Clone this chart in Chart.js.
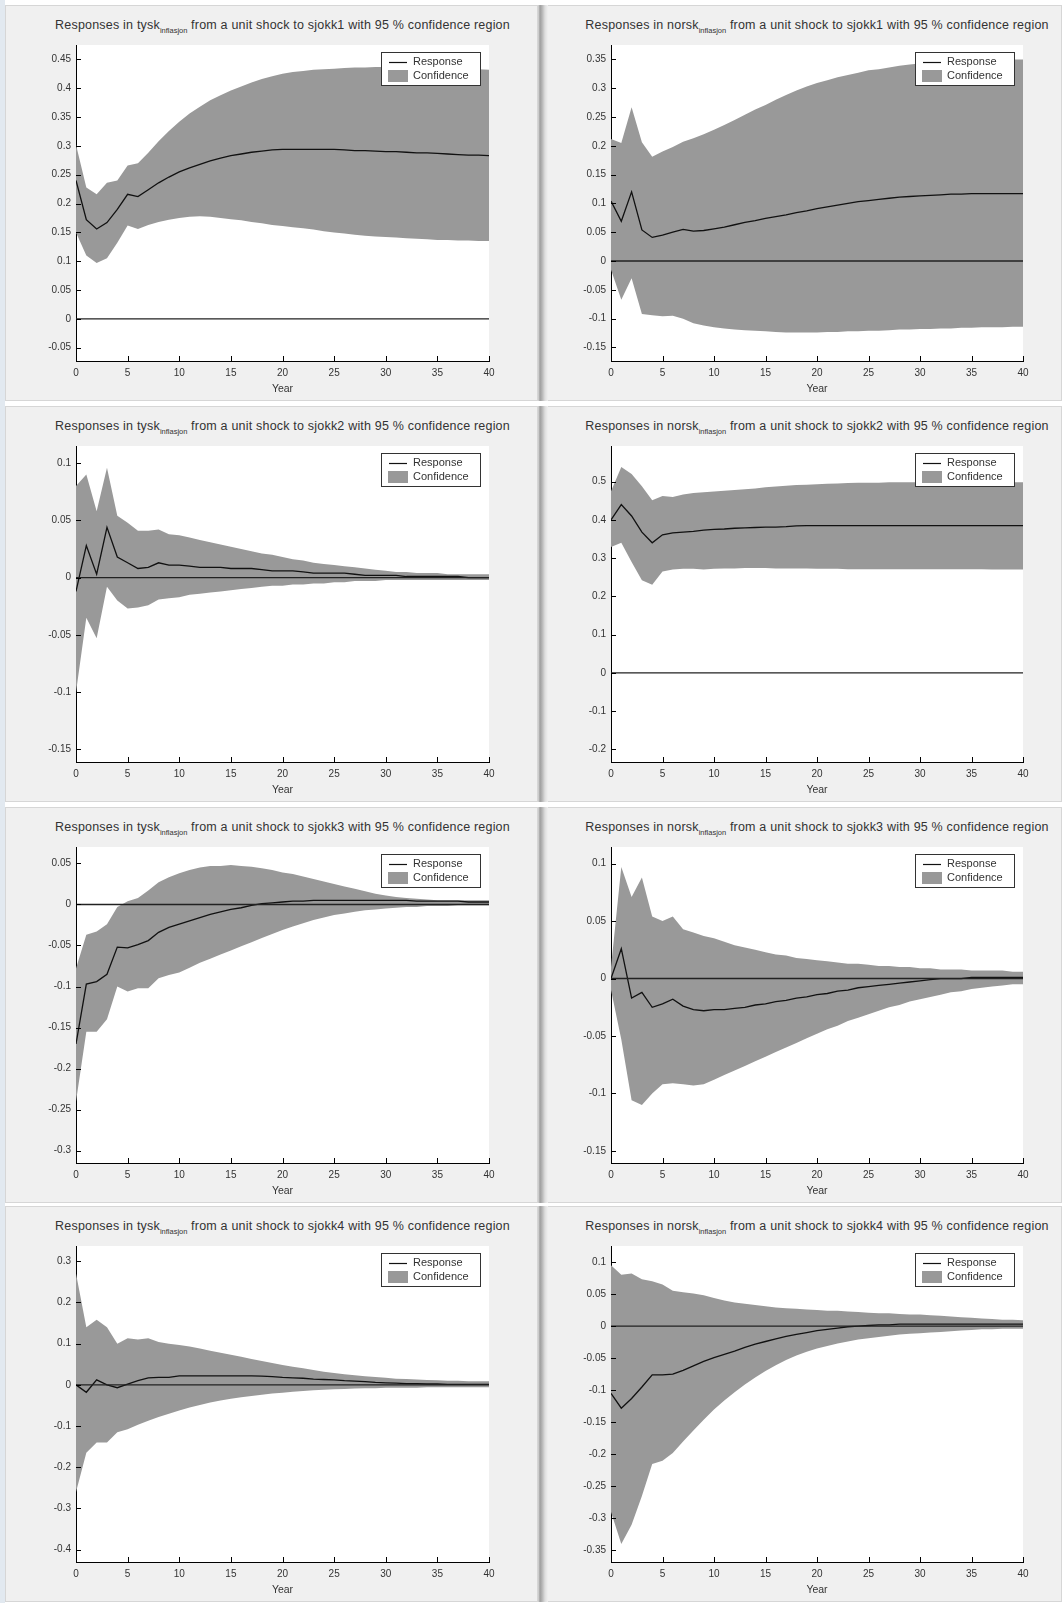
<!DOCTYPE html>
<html>
<head>
<meta charset="utf-8">
<script src="https://cdn.jsdelivr.net/npm/chart.js@4.4.0/dist/chart.umd.min.js"></script>
<style>
  body { margin: 0; width: 1062px; height: 1603px; position: relative; overflow: hidden; background: #fff;
         font-family: "Liberation Sans", Arial, sans-serif; }
  .strip { position: absolute; left: 0; top: 0; width: 5px; height: 1603px; background: #e2e9f0; }
  .win { position: absolute; background: #f0f0f0; box-shadow: inset 0 0 0 1px #d6d6d6; }
  .win canvas { position: absolute; left: 0; top: 0; }
  .edge { position: absolute; width: 10px;
          background: linear-gradient(to right, #dcdcdc 0, #9e9e9e 2px, #b4b4b4 4px, #dedede 7px, #f0f0f0 10px); }
  .ttl { position: absolute; font-size: 12.5px; line-height: 14px; letter-spacing: 0.2px; color: #333;
         white-space: nowrap; transform: translateX(-50%); }
  .ttl sub { font-size: 7.5px; vertical-align: -4px; line-height: 0; letter-spacing: 0; }
</style>
</head>
<body>
<div class="strip"></div>
<script>
const years = [0,1,2,3,4,5,6,7,8,9,10,11,12,13,14,15,16,17,18,19,20,21,22,23,24,25,26,27,28,29,30,31,32,33,34,35,36,37,38,39,40];
const zeroLine = [0,0,0,0,0,0,0,0,0,0,0,0,0,0,0,0,0,0,0,0,0,0,0,0,0,0,0,0,0,0,0,0,0,0,0,0,0,0,0,0,0];

// tysk, sjokk1
const tysk1Resp = [0.240,0.172,0.156,0.167,0.190,0.216,0.212,0.224,0.236,0.246,0.255,0.262,0.268,0.274,0.279,0.283,0.286,0.289,0.291,0.293,0.294,0.294,0.294,0.294,0.294,0.294,0.293,0.292,0.292,0.291,0.290,0.290,0.289,0.288,0.288,0.287,0.286,0.285,0.284,0.284,0.283];
const tysk1Hi = [0.302,0.228,0.216,0.236,0.240,0.266,0.270,0.288,0.308,0.326,0.342,0.356,0.368,0.379,0.388,0.396,0.403,0.410,0.416,0.421,0.425,0.428,0.430,0.432,0.433,0.434,0.435,0.436,0.436,0.437,0.437,0.437,0.437,0.437,0.437,0.436,0.436,0.435,0.434,0.433,0.432];
const tysk1Lo = [0.150,0.110,0.097,0.105,0.132,0.162,0.156,0.163,0.168,0.172,0.175,0.177,0.178,0.177,0.175,0.173,0.171,0.168,0.166,0.163,0.161,0.159,0.157,0.155,0.152,0.150,0.148,0.146,0.144,0.143,0.142,0.141,0.140,0.139,0.138,0.137,0.137,0.136,0.136,0.135,0.135];

// norsk, sjokk1
const norsk1Resp = [0.104,0.069,0.120,0.054,0.041,0.045,0.050,0.055,0.052,0.053,0.056,0.059,0.063,0.067,0.070,0.074,0.077,0.080,0.084,0.087,0.091,0.094,0.097,0.100,0.103,0.105,0.107,0.109,0.111,0.112,0.113,0.114,0.115,0.116,0.116,0.117,0.117,0.117,0.117,0.117,0.117];
const norsk1Hi = [0.212,0.205,0.267,0.206,0.181,0.190,0.198,0.207,0.213,0.220,0.228,0.236,0.245,0.254,0.263,0.271,0.280,0.288,0.296,0.303,0.309,0.314,0.319,0.323,0.327,0.331,0.333,0.336,0.339,0.341,0.343,0.345,0.346,0.347,0.348,0.349,0.349,0.350,0.350,0.350,0.350];
const norsk1Lo = [-0.015,-0.067,-0.030,-0.092,-0.094,-0.096,-0.095,-0.100,-0.108,-0.112,-0.115,-0.117,-0.119,-0.120,-0.121,-0.122,-0.123,-0.124,-0.124,-0.124,-0.124,-0.123,-0.123,-0.122,-0.122,-0.121,-0.121,-0.120,-0.119,-0.119,-0.118,-0.118,-0.117,-0.117,-0.116,-0.116,-0.115,-0.115,-0.115,-0.114,-0.114];

// tysk, sjokk2
const tysk2Resp = [-0.012,0.028,0.003,0.044,0.018,0.013,0.008,0.009,0.013,0.011,0.011,0.010,0.009,0.009,0.009,0.008,0.008,0.008,0.007,0.006,0.006,0.006,0.005,0.004,0.004,0.004,0.004,0.003,0.002,0.002,0.002,0.002,0.001,0.001,0.001,0.001,0.001,0.001,0.000,0.000,0.000];
const tysk2Hi = [0.080,0.090,0.058,0.096,0.054,0.048,0.041,0.041,0.042,0.038,0.037,0.035,0.033,0.031,0.029,0.027,0.025,0.023,0.021,0.020,0.018,0.016,0.015,0.013,0.012,0.011,0.010,0.009,0.008,0.007,0.006,0.005,0.005,0.004,0.004,0.004,0.003,0.003,0.003,0.003,0.003];
const tysk2Lo = [-0.100,-0.035,-0.053,-0.008,-0.020,-0.027,-0.026,-0.024,-0.019,-0.018,-0.017,-0.015,-0.014,-0.013,-0.012,-0.011,-0.010,-0.009,-0.008,-0.007,-0.007,-0.006,-0.006,-0.005,-0.005,-0.004,-0.004,-0.003,-0.003,-0.003,-0.002,-0.002,-0.002,-0.002,-0.002,-0.002,-0.002,-0.002,-0.002,-0.002,-0.002];

// norsk, sjokk2
const norsk2Resp = [0.400,0.440,0.410,0.368,0.340,0.361,0.366,0.368,0.370,0.373,0.375,0.376,0.378,0.379,0.380,0.381,0.381,0.382,0.384,0.385,0.385,0.385,0.385,0.385,0.385,0.385,0.385,0.385,0.385,0.385,0.385,0.385,0.385,0.385,0.385,0.385,0.385,0.385,0.385,0.385,0.385];
const norsk2Hi = [0.475,0.538,0.520,0.488,0.451,0.462,0.460,0.466,0.470,0.472,0.474,0.476,0.478,0.480,0.482,0.485,0.487,0.489,0.491,0.492,0.493,0.494,0.495,0.496,0.497,0.497,0.497,0.498,0.498,0.498,0.498,0.498,0.498,0.498,0.498,0.498,0.498,0.498,0.498,0.498,0.498];
const norsk2Lo = [0.329,0.340,0.290,0.242,0.230,0.265,0.270,0.272,0.272,0.270,0.272,0.273,0.273,0.274,0.274,0.274,0.273,0.273,0.273,0.273,0.272,0.272,0.272,0.271,0.271,0.271,0.271,0.271,0.271,0.271,0.271,0.271,0.271,0.271,0.271,0.271,0.271,0.270,0.270,0.270,0.270];

// tysk, sjokk3
const tysk3Resp = [-0.170,-0.097,-0.094,-0.085,-0.052,-0.053,-0.049,-0.044,-0.034,-0.028,-0.024,-0.020,-0.016,-0.012,-0.009,-0.006,-0.004,-0.001,0.001,0.002,0.003,0.004,0.004,0.005,0.005,0.005,0.005,0.005,0.005,0.005,0.005,0.005,0.005,0.004,0.004,0.004,0.004,0.004,0.003,0.003,0.003];
const tysk3Hi = [-0.078,-0.037,-0.033,-0.024,-0.003,0.004,0.008,0.017,0.027,0.033,0.038,0.042,0.045,0.047,0.047,0.048,0.047,0.046,0.044,0.042,0.039,0.037,0.034,0.031,0.028,0.025,0.022,0.019,0.016,0.013,0.011,0.009,0.008,0.007,0.006,0.005,0.005,0.005,0.005,0.005,0.005];
const tysk3Lo = [-0.240,-0.155,-0.155,-0.140,-0.100,-0.106,-0.102,-0.102,-0.090,-0.086,-0.083,-0.077,-0.071,-0.066,-0.061,-0.056,-0.051,-0.046,-0.041,-0.036,-0.031,-0.027,-0.023,-0.019,-0.016,-0.013,-0.011,-0.009,-0.007,-0.006,-0.005,-0.004,-0.003,-0.003,-0.002,-0.002,-0.002,-0.001,-0.001,-0.001,-0.001];

// norsk, sjokk3
const norsk3Resp = [0.000,0.026,-0.017,-0.012,-0.025,-0.022,-0.018,-0.024,-0.027,-0.028,-0.027,-0.027,-0.026,-0.025,-0.023,-0.022,-0.020,-0.019,-0.017,-0.016,-0.014,-0.013,-0.011,-0.010,-0.008,-0.007,-0.006,-0.005,-0.004,-0.003,-0.002,-0.001,0.000,0.000,0.000,0.001,0.001,0.001,0.001,0.001,0.001];
const norsk3Hi = [0.010,0.097,0.071,0.088,0.054,0.050,0.054,0.043,0.040,0.037,0.035,0.032,0.029,0.027,0.025,0.023,0.021,0.020,0.018,0.017,0.016,0.015,0.014,0.013,0.013,0.012,0.011,0.011,0.010,0.010,0.009,0.009,0.008,0.008,0.008,0.007,0.007,0.007,0.007,0.006,0.006];
const norsk3Lo = [-0.010,-0.053,-0.106,-0.110,-0.100,-0.092,-0.091,-0.092,-0.093,-0.092,-0.088,-0.084,-0.080,-0.076,-0.072,-0.068,-0.064,-0.060,-0.056,-0.052,-0.048,-0.044,-0.041,-0.037,-0.034,-0.031,-0.028,-0.025,-0.023,-0.020,-0.018,-0.016,-0.014,-0.012,-0.011,-0.009,-0.008,-0.007,-0.006,-0.005,-0.005];

// tysk, sjokk4
const tysk4Resp = [0.000,-0.018,0.012,0.000,-0.007,0.002,0.010,0.017,0.018,0.018,0.022,0.022,0.022,0.022,0.022,0.022,0.022,0.022,0.021,0.020,0.018,0.017,0.016,0.014,0.013,0.012,0.010,0.009,0.008,0.006,0.005,0.004,0.003,0.003,0.002,0.002,0.001,0.001,0.001,0.001,0.001];
const tysk4Hi = [0.270,0.140,0.158,0.140,0.100,0.113,0.110,0.113,0.104,0.100,0.097,0.093,0.088,0.083,0.078,0.073,0.068,0.063,0.058,0.053,0.048,0.044,0.040,0.036,0.032,0.029,0.026,0.023,0.021,0.019,0.017,0.015,0.014,0.013,0.012,0.011,0.010,0.010,0.009,0.009,0.009];
const tysk4Lo = [-0.260,-0.165,-0.140,-0.140,-0.115,-0.108,-0.097,-0.087,-0.078,-0.070,-0.062,-0.055,-0.049,-0.043,-0.038,-0.034,-0.030,-0.027,-0.024,-0.021,-0.019,-0.017,-0.015,-0.013,-0.012,-0.011,-0.010,-0.009,-0.008,-0.008,-0.007,-0.007,-0.007,-0.007,-0.006,-0.006,-0.006,-0.006,-0.006,-0.006,-0.006];

// norsk, sjokk4
const norsk4Resp = [-0.105,-0.128,-0.113,-0.095,-0.076,-0.076,-0.075,-0.069,-0.062,-0.055,-0.049,-0.044,-0.039,-0.033,-0.028,-0.024,-0.020,-0.016,-0.013,-0.010,-0.007,-0.005,-0.003,-0.001,0.000,0.001,0.002,0.002,0.003,0.003,0.003,0.003,0.003,0.003,0.003,0.003,0.003,0.003,0.003,0.003,0.003];
const norsk4Hi = [0.095,0.080,0.082,0.073,0.070,0.065,0.055,0.053,0.051,0.048,0.044,0.040,0.037,0.035,0.033,0.031,0.029,0.028,0.027,0.026,0.025,0.024,0.024,0.023,0.022,0.021,0.020,0.020,0.019,0.018,0.018,0.017,0.016,0.015,0.014,0.013,0.012,0.011,0.010,0.010,0.009];
const norsk4Lo = [-0.290,-0.340,-0.310,-0.265,-0.215,-0.210,-0.198,-0.180,-0.163,-0.146,-0.130,-0.116,-0.103,-0.091,-0.080,-0.070,-0.061,-0.053,-0.046,-0.040,-0.035,-0.031,-0.027,-0.024,-0.021,-0.019,-0.017,-0.015,-0.013,-0.012,-0.011,-0.010,-0.009,-0.008,-0.007,-0.006,-0.005,-0.005,-0.004,-0.004,-0.004];

// panel order: row by row, tysk left, norsk right
const variables = ['tysk', 'norsk', 'tysk', 'norsk', 'tysk', 'norsk', 'tysk', 'norsk'];
const shocks = ['sjokk1', 'sjokk1', 'sjokk2', 'sjokk2', 'sjokk3', 'sjokk3', 'sjokk4', 'sjokk4'];
const responses = [tysk1Resp, norsk1Resp, tysk2Resp, norsk2Resp, tysk3Resp, norsk3Resp, tysk4Resp, norsk4Resp];
const upper = [tysk1Hi, norsk1Hi, tysk2Hi, norsk2Hi, tysk3Hi, norsk3Hi, tysk4Hi, norsk4Hi];
const lower = [tysk1Lo, norsk1Lo, tysk2Lo, norsk2Lo, tysk3Lo, norsk3Lo, tysk4Lo, norsk4Lo];
const yMin = [-0.073, -0.1735, -0.161, -0.233, -0.315, -0.1605, -0.43, -0.368];
const yMax = [0.475, 0.375, 0.115, 0.593, 0.070, 0.1145, 0.337, 0.125];
const yStep = [0.05, 0.05, 0.05, 0.1, 0.05, 0.05, 0.1, 0.05];

// layout of the eight figure windows
const winLeft = [5, 540];
const winWidth = [533, 522];
const winTop = [5, 406, 807, 1206];
const winHeight = 396;
const axLeft = 71, axTop = 40, axHeight = 316, xAxisHeight = 34;
const axWidth = [413, 412];

Chart.defaults.font.family = '"Liberation Sans", Arial, sans-serif';
Chart.defaults.color = '#333';

const matlabLook = {
  id: 'matlabLook',
  beforeDraw(chart) {
    const { ctx, chartArea: a } = chart;
    ctx.save();
    ctx.fillStyle = '#fff';
    ctx.fillRect(a.left, a.top, a.right - a.left, a.bottom - a.top);
    ctx.restore();
  },
  afterDraw(chart) {
    const { ctx, chartArea: a, scales: { x, y } } = chart;
    ctx.save();
    // inward tick marks
    ctx.strokeStyle = '#000';
    ctx.lineWidth = 1;
    ctx.beginPath();
    y.ticks.forEach(t => {
      const py = Math.round(y.getPixelForValue(t.value)) + 0.5;
      ctx.moveTo(a.left, py); ctx.lineTo(a.left + 5, py);
    });
    x.ticks.forEach(t => {
      const px = Math.round(x.getPixelForValue(t.value)) + 0.5;
      ctx.moveTo(px, a.bottom); ctx.lineTo(px, a.bottom - 5);
    });
    ctx.stroke();

    // legend box in the upper right corner
    const ds = chart.data.datasets;
    const bw = 99, bh = 33;
    const bx = Math.round(a.right - 9 - bw), by = Math.round(a.top + 7);
    ctx.fillStyle = '#fff';
    ctx.fillRect(bx, by, bw, bh);
    ctx.strokeStyle = '#333';
    ctx.strokeRect(bx + 0.5, by + 0.5, bw, bh);
    ctx.beginPath();
    ctx.strokeStyle = ds[2].borderColor;
    ctx.lineWidth = 1.2;
    ctx.moveTo(bx + 8, by + 10.5); ctx.lineTo(bx + 26, by + 10.5);
    ctx.stroke();
    ctx.fillStyle = ds[0].backgroundColor;
    ctx.fillRect(bx + 7, by + 18, 20, 12);
    ctx.fillStyle = '#333';
    ctx.font = '11px "Liberation Sans", Arial, sans-serif';
    ctx.textBaseline = 'middle';
    ctx.fillText(ds[2].label, bx + 32, by + 10);
    ctx.fillText(ds[0].label, bx + 32, by + 23.5);
    ctx.restore();
  }
};

const toPoints = arr => years.map((t, i) => ({ x: t, y: arr[i] }));
const fmt = v => String(+Number(v).toFixed(3));

responses.forEach((resp, i) => {
  const col = i % 2, row = Math.floor(i / 2);

  const win = document.createElement('div');
  win.className = 'win';
  win.style.left = winLeft[col] + 'px';
  win.style.top = winTop[row] + 'px';
  win.style.width = winWidth[col] + 'px';
  win.style.height = winHeight + 'px';
  document.body.appendChild(win);

  const title = document.createElement('div');
  title.className = 'ttl';
  title.style.left = (axLeft + axWidth[col] / 2) + 'px';
  title.style.top = '13px';
  title.innerHTML = 'Responses in ' + variables[i] + '<sub>inflasjon</sub> from a unit shock to ' +
                    shocks[i] + ' with 95 % confidence region';
  win.appendChild(title);

  const cv = document.createElement('canvas');
  cv.width = winWidth[col];
  cv.height = winHeight;
  win.appendChild(cv);

  if (col === 1) {
    const edge = document.createElement('div');
    edge.className = 'edge';
    edge.style.left = '538px';
    edge.style.top = winTop[row] + 'px';
    edge.style.height = winHeight + 'px';
    document.body.appendChild(edge);
  }

  new Chart(cv, {
    type: 'line',
    data: {
      datasets: [
        { label: 'Confidence', data: toPoints(upper[i]), fill: '+1', backgroundColor: '#999999',
          borderWidth: 0, pointRadius: 0, order: 3 },
        { label: 'lower', data: toPoints(lower[i]), fill: false, borderWidth: 0, pointRadius: 0, order: 3 },
        { label: 'Response', data: toPoints(resp), borderColor: '#111', borderWidth: 1.3,
          pointRadius: 0, fill: false, order: 1 },
        { label: 'zero', data: toPoints(zeroLine), borderColor: '#222', borderWidth: 1.4,
          pointRadius: 0, fill: false, order: 0 }
      ]
    },
    options: {
      responsive: false,
      animation: false,
      devicePixelRatio: 1,
      layout: {
        padding: {
          left: 0, top: axTop,
          right: winWidth[col] - axLeft - axWidth[col],
          bottom: winHeight - axTop - axHeight - xAxisHeight
        }
      },
      elements: { line: { tension: 0 } },
      plugins: { legend: { display: false }, tooltip: { enabled: false } },
      scales: {
        x: {
          type: 'linear', min: 0, max: 40,
          ticks: { stepSize: 5, padding: 6, font: { size: 10 }, color: '#333' },
          grid: { display: false, drawTicks: false },
          border: { display: true, color: '#000', width: 1 },
          title: { display: true, text: 'Year', padding: 0, font: { size: 10.5 }, color: '#333' },
          afterFit: s => { s.height = xAxisHeight; }
        },
        y: {
          min: yMin[i], max: yMax[i],
          ticks: { stepSize: yStep[i], padding: 5, includeBounds: false, font: { size: 10 }, color: '#333',
                   callback: v => fmt(v) },
          grid: { display: false, drawTicks: false },
          border: { display: true, color: '#000', width: 1 },
          afterFit: s => { s.width = axLeft; }
        }
      }
    },
    plugins: [matlabLook]
  });
});
</script>
</body>
</html>
